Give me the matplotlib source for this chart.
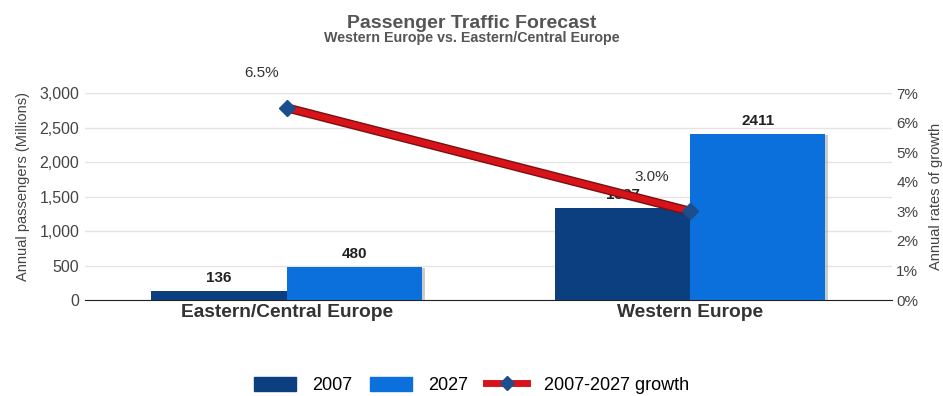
import matplotlib
matplotlib.use('Agg')
import matplotlib.pyplot as plt
import matplotlib.patheffects as pe
from matplotlib.lines import Line2D
from matplotlib.patches import Patch
from matplotlib.ticker import FuncFormatter

plt.rcParams['font.family'] = ['Liberation Sans', 'DejaVu Sans']

regions = ['Eastern/Central Europe', 'Western Europe']
pax_2007 = [136, 1337]
pax_2027 = [480, 2411]
growth = [6.5, 3.0]

DARK = '#0b3f80'
LIGHT = '#0b6fdc'
RED = '#d8141a'
GREY = '#555555'

fig = plt.figure(figsize=(9.43, 3.96), dpi=100)
ax = fig.add_axes([0.090, 0.2424, 0.856, 0.5227])
ax2 = ax.twinx()

x = list(range(len(regions)))
w = 0.335
shadow = [pe.SimplePatchShadow(offset=(2, -1), shadow_rgbFace='#999999', alpha=0.5), pe.Normal()]
b1 = ax.bar([i - w / 2 for i in x], pax_2007, width=w, color=DARK, zorder=3, path_effects=shadow)
b2 = ax.bar([i + w / 2 for i in x], pax_2027, width=w, color=LIGHT, zorder=3, path_effects=shadow)

for bars, vals in ((b1, pax_2007), (b2, pax_2027)):
    for rect, v in zip(bars, vals):
        ax.text(rect.get_x() + rect.get_width() / 2, v + 80, str(v),
                ha='center', va='bottom', fontsize=11, fontweight='bold', color='#222222', zorder=6)

ax.set_xlim(-0.5, 1.5)
ax.set_ylim(0, 3000)
ax.set_yticks(range(0, 3001, 500))
ax.yaxis.set_major_formatter(FuncFormatter(lambda v, p: f'{int(v):,}'))
ax.grid(axis='y', color='#e4e4e4', linewidth=1, zorder=0)
ax.set_axisbelow(True)
ax.set_xticks(x)
ax.set_xticklabels(regions, fontsize=13.8, fontweight='bold', color='#333333')
ax.tick_params(axis='x', length=0, pad=3)
ax.tick_params(axis='y', length=0, labelsize=11.5, labelcolor='#444444', pad=4)
ax.set_ylabel('Annual passengers (Millions)', fontsize=10.5, color='#444444')
ax.yaxis.set_label_coords(-0.068, 0.55)
for s in ('top', 'right', 'left'):
    ax.spines[s].set_visible(False)
ax.spines['bottom'].set_color('#222222')

ax2.set_ylim(0, 7)
ax2.set_yticks(range(0, 8))
ax2.yaxis.set_major_formatter(FuncFormatter(lambda v, p: f'{int(v)}%'))
ax2.tick_params(axis='y', length=0, labelsize=11, labelcolor='#444444', pad=3)
ax2.set_ylabel('Annual rates of growth', fontsize=10.5, color='#444444', labelpad=8)
for s in ax2.spines.values():
    s.set_visible(False)

ax2.plot(x, growth, color=RED, linewidth=4.5, zorder=5, solid_capstyle='butt',
         path_effects=[pe.Stroke(linewidth=6.5, foreground='#7a1010'), pe.Normal()])
ax2.plot(x, growth, linestyle='none', marker='D', markersize=8, color='#1c4d8c', zorder=6)
for xi, g, dx in zip(x, growth, (-0.062, -0.095)):
    ax2.text(xi + dx, g + 1.17, f'{g:.1f}%', ha='center', va='center', fontsize=11,
             color='#333333', clip_on=False, zorder=7)

fig.text(0.5, 0.93, 'Passenger Traffic Forecast', ha='center', fontsize=14,
         fontweight='bold', color=GREY)
fig.text(0.5, 0.893, 'Western Europe vs. Eastern/Central Europe', ha='center', fontsize=10.3,
         fontweight='bold', color=GREY)

handles = [Patch(color=DARK), Patch(color=LIGHT),
           Line2D([0], [0], color=RED, linewidth=5, marker='D', markersize=7,
                  markerfacecolor='#1c4d8c', markeredgecolor='#1c4d8c')]
fig.legend(handles, ['2007', '2027', '2007-2027 growth'], loc='center',
           bbox_to_anchor=(0.5, 0.027), ncol=3, frameon=False, fontsize=13,
           handlelength=2.3, handleheight=0.8, columnspacing=1.0, handletextpad=0.9)

plt.savefig('out.png', dpi=100)
